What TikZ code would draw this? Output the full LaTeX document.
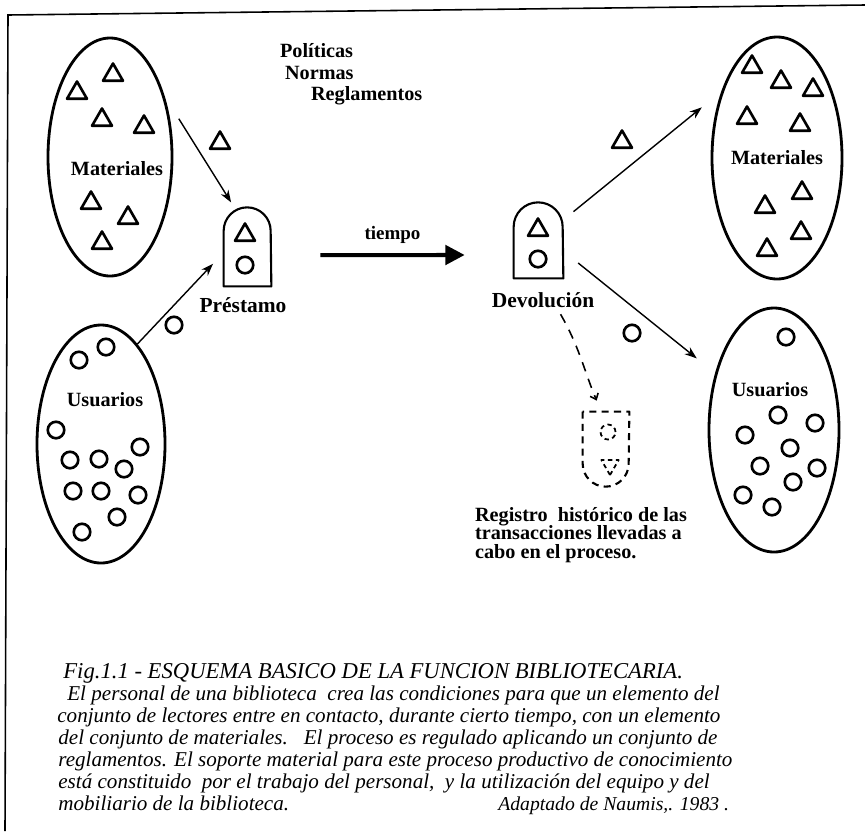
\documentclass[tikz,border=0pt]{standalone}
\usepackage{fontspec}
\setmainfont{Liberation Serif}
\usetikzlibrary{positioning, arrows.meta, shapes.geometric}

\begin{document}
\begin{tikzpicture}[
  conj/.style={ellipse, draw, line width=1.6pt, inner sep=0pt},
  tri/.style={regular polygon, regular polygon sides=3, draw, line width=1.5pt,
              line join=round, inner sep=0pt, minimum size=0.46cm},
  ring/.style={circle, draw, line width=1.5pt, inner sep=0pt, minimum size=0.33cm},
  lbl/.style={font=\fontsize{11.5}{12}\selectfont\bfseries, inner sep=1pt},
  card/.style={line width=1.2pt, line join=round},
  slot/.style={inner sep=0pt},
  flow/.style={-{Stealth[length=7pt, width=5pt]}, line width=0.8pt},
  big/.style={-{Triangle[length=11pt, width=11pt]}, line width=2.3pt},
  dflow/.style={-{Straight Barb[length=3pt, width=5pt]}, line width=0.9pt,
                dash pattern=on 5.5pt off 4.5pt},
  capline/.style={font=\fontsize{12}{13}\selectfont\itshape, anchor=base west, inner sep=0pt},
]
  \useasboundingbox (0,0) rectangle (17.3,-16.62);

  % frame of the scanned page
  \draw[line width=0.9pt] (0.10,-16.62) -- (0.16,-0.30) -- (17.3,-0.10);

  % ── Left sets ──
  \node[conj, minimum width=2.48cm, minimum height=4.76cm] (matL) at (2.20,-3.14) {};
  \node[lbl] (matLtxt) at (2.34,-3.38) {Materiales};
  \foreach \x/\y [count=\i] in {1.54/-1.86, 2.26/-1.50, 2.04/-2.40, 2.88/-2.54,
                                1.82/-4.06, 2.56/-4.36, 2.04/-4.86}
    { \node[tri] (tl\i) at (\x,\y) {}; }

  \node[conj, minimum width=2.56cm, minimum height=4.76cm] (usrL) at (2.02,-8.88) {};
  \node[lbl] (usrLtxt) at (2.10,-8.00) {Usuarios};
  \foreach \x/\y [count=\i] in {1.58/-7.20, 2.12/-6.94, 1.12/-8.60, 2.80/-8.94,
                                1.40/-9.20, 1.98/-9.18, 2.48/-9.38, 1.46/-9.82,
                                2.02/-9.82, 2.76/-9.90, 2.34/-10.34, 1.64/-10.64}
    { \node[ring] (cl\i) at (\x,\y) {}; }

  % Rules
  \node[lbl, anchor=base west] (pol) at (5.56,-1.14) {Políticas};
  \node[lbl, anchor=base west] (nor) at (5.66,-1.58) {Normas};
  \node[lbl, anchor=base west] (reg) at (6.18,-2.00) {Reglamentos};

  % ── Loan ──
  \node[slot, minimum width=0.94cm, minimum height=1.58cm] (prest) at (4.95,-4.93) {};
  \draw[card] (prest.south west) -- ++(0,1.11) arc[start angle=180, end angle=0, radius=0.47cm]
    -- (prest.south east) -- cycle;
  \node[tri] (prtri) at (4.90,-4.70) {};
  \node[ring] (prcir) at (4.90,-5.30) {};
  \node[lbl, font=\fontsize{12.2}{13}\selectfont\bfseries] (prtxt) at (4.86,-6.10) {Préstamo};

  \node[tri] (tmov) at (4.40,-2.86) {};
  \node[ring] (cmov) at (3.48,-6.50) {};
  \draw[flow, shorten <=0.53cm, shorten >=0.1cm] (matL.48) -- (prest.109);
  \draw[flow, shorten >=0.31cm] (usrL.70) -- (prest.194);

  % ── Return ──
  \node[slot, minimum width=0.98cm, minimum height=1.52cm] (devol) at (10.77,-4.80) {};
  \draw[card] (devol.south west) -- ++(0,1.03) arc[start angle=180, end angle=0, radius=0.49cm]
    -- (devol.south east) -- cycle;
  \node[tri] (dvtri) at (10.76,-4.60) {};
  \node[ring] (dvcir) at (10.76,-5.18) {};
  \node[lbl, font=\fontsize{12.2}{13}\selectfont\bfseries] (dvtxt) at (10.86,-6.00) {Devolución};

  \draw[big, shorten <=0.98cm, shorten >=0.98cm] (prest.-20) -- (devol.211.5)
    node[midway, above=0.16cm, lbl, font=\fontsize{10.8}{12}\selectfont\bfseries] (tmp) {tiempo};

  % ── Right sets ──
  \node[conj, minimum width=2.60cm, minimum height=4.84cm] (matR) at (15.54,-3.16) {};
  \node[lbl] (matRtxt) at (15.54,-3.16) {Materiales};
  \foreach \x/\y [count=\i] in {15.04/-1.34, 15.62/-1.64, 16.26/-1.80, 14.94/-2.36,
                                16.00/-2.50, 16.04/-3.86, 15.30/-4.14, 16.02/-4.66,
                                15.34/-5.00}
    { \node[tri] (tr\i) at (\x,\y) {}; }

  \node[conj, minimum width=2.60cm, minimum height=4.88cm] (usrR) at (15.48,-8.60) {};
  \node[lbl] (usrRtxt) at (15.40,-7.80) {Usuarios};
  \foreach \x/\y [count=\i] in {15.72/-6.74, 15.56/-8.30, 16.30/-8.46, 14.90/-8.70,
                                15.80/-8.96, 15.20/-9.32, 16.34/-9.36, 15.86/-9.64,
                                14.86/-9.90, 15.44/-10.14}
    { \node[ring] (cr\i) at (\x,\y) {}; }

  \node[tri] (tback) at (12.44,-2.84) {};
  \node[ring] (cback) at (12.64,-6.66) {};
  \draw[flow, shorten <=0.26cm, shorten >=0.5cm] (devol.39) -- (matR.130);
  \draw[flow, shorten <=0.38cm, shorten >=0.47cm] (devol.-24) -- (usrR.136.5);

  % ── History record ──
  \node[slot, minimum width=0.92cm, minimum height=1.50cm] (hist) at (12.12,-8.99) {};
  \draw[card, dash pattern=on 4pt off 3pt] (hist.north west) -- ++(0,-1.04)
    arc[start angle=180, end angle=360, radius=0.46cm] -- (hist.north east) -- cycle;
  \node[ring, line width=1pt, minimum size=0.30cm, dash pattern=on 2.5pt off 2pt] (hscir) at (12.16,-8.64) {};
  \node[tri, line width=1pt, minimum size=0.40cm, shape border rotate=180,
        dash pattern=on 2.5pt off 2pt] (hstri) at (12.20,-9.30) {};
  \draw[dflow, shorten <=3pt, shorten >=0.24cm] (dvtxt.-33) to[out=-60, in=113] (hist.97);

  \node[lbl, anchor=base west] (rg1) at (9.46,-10.42) {Registro\ \ histórico de las};
  \node[lbl, anchor=base west] (rg2) at (9.46,-10.79) {transacciones llevadas a};
  \node[lbl, anchor=base west] (rg3) at (9.46,-11.16) {cabo en el proceso.};

  % ── Caption ──
  \node[capline, font=\fontsize{12.9}{14}\selectfont\itshape] (c1) at (1.26,-13.56)
    {Fig.1.1 - ESQUEMA BASICO DE LA FUNCION BIBLIOTECARIA.};
  \node[capline] (c2) at (1.34,-14.00) {El personal de una biblioteca\ \ crea las condiciones para que un elemento del};
  \node[capline] (c3) at (1.14,-14.44) {conjunto de lectores entre en contacto, durante cierto tiempo, con un elemento};
  \node[capline] (c4) at (1.16,-14.88) {del conjunto de materiales.\ \ \ El proceso es regulado aplicando un conjunto de};
  \node[capline] (c5) at (1.16,-15.32) {reglamentos. El soporte material para este proceso productivo de conocimiento};
  \node[capline] (c6) at (1.16,-15.76) {está constituido\ \ por el trabajo del personal,\ \ y la utilización del equipo y del};
  \node[capline] (c7) at (1.16,-16.20) {mobiliario de la biblioteca.};
  \node[capline, font=\fontsize{11.2}{13}\selectfont\itshape] (c8) at (9.96,-16.20) {Adaptado de Naumis,. 1983 .};

\end{tikzpicture}
\end{document}
